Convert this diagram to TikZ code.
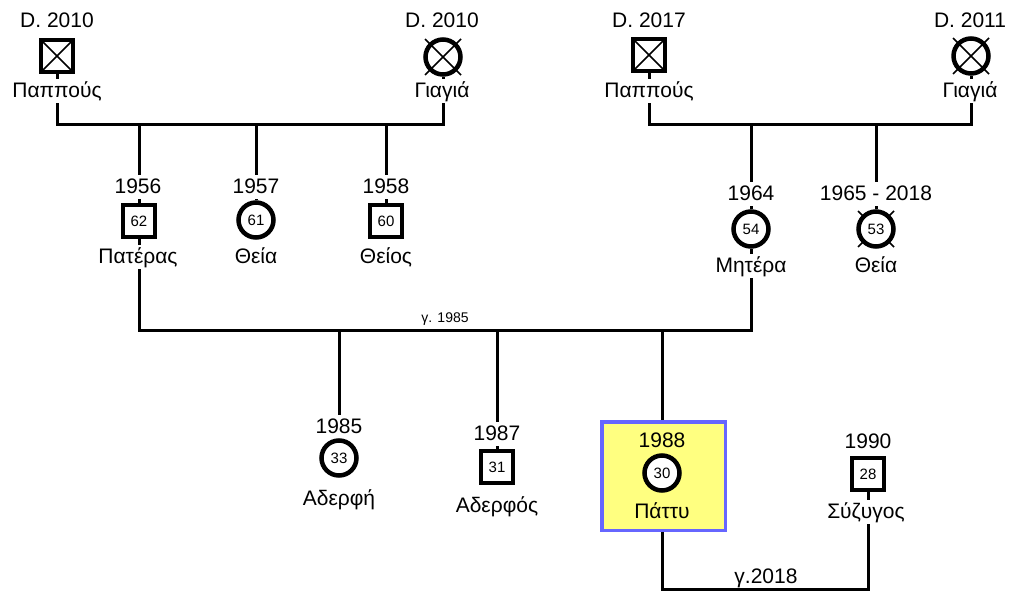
\documentclass[tikz,border=0pt]{standalone}
\usepackage{fontspec}
\setmainfont{Liberation Sans}
\usetikzlibrary{backgrounds}
\definecolor{hlfill}{HTML}{FFFF80}
\definecolor{hlline}{HTML}{6666FF}
\tikzset{
    male/.style={draw, rectangle, line width=4.5pt, minimum size=32pt, inner sep=0pt, fill=white, font=\fontsize{15}{17}\selectfont},
    female/.style={draw, circle, line width=4.5pt, minimum size=35pt, inner sep=0pt, fill=white, font=\fontsize{15}{17}\selectfont},
    dmale/.style={male, path picture={
        \draw[line width=1.6pt] (path picture bounding box.north west) -- (path picture bounding box.south east);
        \draw[line width=1.6pt] (path picture bounding box.north east) -- (path picture bounding box.south west);}},
    txt/.style={fill=white, anchor=base, inner xsep=2pt, inner ysep=3pt, text height=15pt, text depth=3pt, font=\fontsize{21}{25}\selectfont},
    cross/.style={line width=1.6pt},
    link/.style={line width=3pt},
}
\begin{document}
\begin{tikzpicture}[x=1pt,y=-1pt]
    \useasboundingbox (0,0) rectangle (1009,592);
    % grandparents
    \node[dmale] (gpL) at (57,56) {};
    \node[txt] (gpL-yr) at (57,27) {D. 2010};
    \node[txt] (gpL-nm) at (57,97) {Παππούς};
    \node[female] (gmL) at (443,57) {};
    \node[txt] (gmL-yr) at (442,27) {D. 2010};
    \node[txt] (gmL-nm) at (442,97) {Γιαγιά};
    \node[dmale] (gpR) at (649,55) {};
    \node[txt] (gpR-yr) at (649,27) {D. 2017};
    \node[txt] (gpR-nm) at (649,97) {Παππούς};
    \node[female] (gmR) at (971,56) {};
    \node[txt] (gmR-yr) at (970,27) {D. 2011};
    \node[txt] (gmR-nm) at (970,97) {Γιαγιά};
    % parents, aunts, uncle
    \node[txt] (fa-yr) at (138,193) {1956};
    \node[male] (fa) at (139,221) {62};
    \node[txt] (fa-nm) at (138,263) {Πατέρας};
    \node[txt] (au1-yr) at (256,193) {1957};
    \node[female] (au1) at (256,220) {61};
    \node[txt] (au1-nm) at (256,263) {Θεία};
    \node[txt] (un-yr) at (386,193) {1958};
    \node[male] (un) at (386,221) {60};
    \node[txt] (un-nm) at (386,263) {Θείος};
    \node[txt] (mo-yr) at (751,200) {1964};
    \node[female] (mo) at (751,229) {54};
    \node[txt] (mo-nm) at (751,272) {Μητέρα};
    \node[txt] (au2-yr) at (876,200) {1965 - 2018};
    \node[female] (au2) at (876,229) {53};
    \node[txt] (au2-nm) at (876,272) {Θεία};
    % children
    \node[txt] (si-yr) at (339,433) {1985};
    \node[female] (si) at (339,458) {33};
    \node[txt] (si-nm) at (339,505) {Αδερφή};
    \node[txt] (br-yr) at (497,440) {1987};
    \node[male] (br) at (497,467) {31};
    \node[txt] (br-nm) at (497,512) {Αδερφός};
    \node[draw=hlline, fill=hlfill, line width=3.5pt, minimum width=123.5pt, minimum height=108.5pt] (hl) at (663.5,476) {};
    \node[txt, fill=none] (me-yr) at (662,447) {1988};
    \node[female] (me) at (662,473) {30};
    \node[txt, fill=none] (me-nm) at (662,518) {Πάττυ};
    \node[txt, fill=none] (sp-yr) at (868,448) {1990};
    \node[male] (sp) at (868,474) {28};
    \node[txt] (sp-nm) at (866,518) {Σύζυγος};
    \foreach \n in {gmL,gmR}
        \draw[cross] (\n.center) ++(-18,-18) -- ++(36,36) ++(0,-36) -- ++(-36,36);
    % marriage lines
    \coordinate (m1L) at (250,124);
    \coordinate (m1R) at (810,124);
    \coordinate (m2) at (445,330);
    \coordinate (m3) at (765,589);
    \node[txt, fill=none, font=\fontsize{14}{17}\selectfont] (m2-lb) at (445,322) {γ. 1985};
    \node[txt, fill=none] (m3-lb) at (766,583) {γ.2018};
    \begin{scope}[on background layer]
        \draw[link] (gpL) |- (m1L) -| (gmL);
        \draw[link] (gpR) |- (m1R) -| (gmR);
        \draw[link] (m1L -| fa) -- (fa);
        \draw[link] (m1L -| au1) -- (au1);
        \draw[link] (m1L -| un) -- (un);
        \draw[link] (m1R -| mo) -- (mo);
        \draw[link] (m1R -| au2) -- (au2);
        \draw[link] (fa) |- (m2) -| (mo);
        \draw[link] (m2 -| si) -- (si);
        \draw[link] (m2 -| br) -- (br);
        \draw[link] (m2 -| me) -- (me);
        \draw[link] (me) |- (m3) -| (sp);
        \draw[cross] (au2.center) ++(-18,-18) -- ++(36,36) ++(0,-36) -- ++(-36,36);
    \end{scope}
\end{tikzpicture}
\end{document}
